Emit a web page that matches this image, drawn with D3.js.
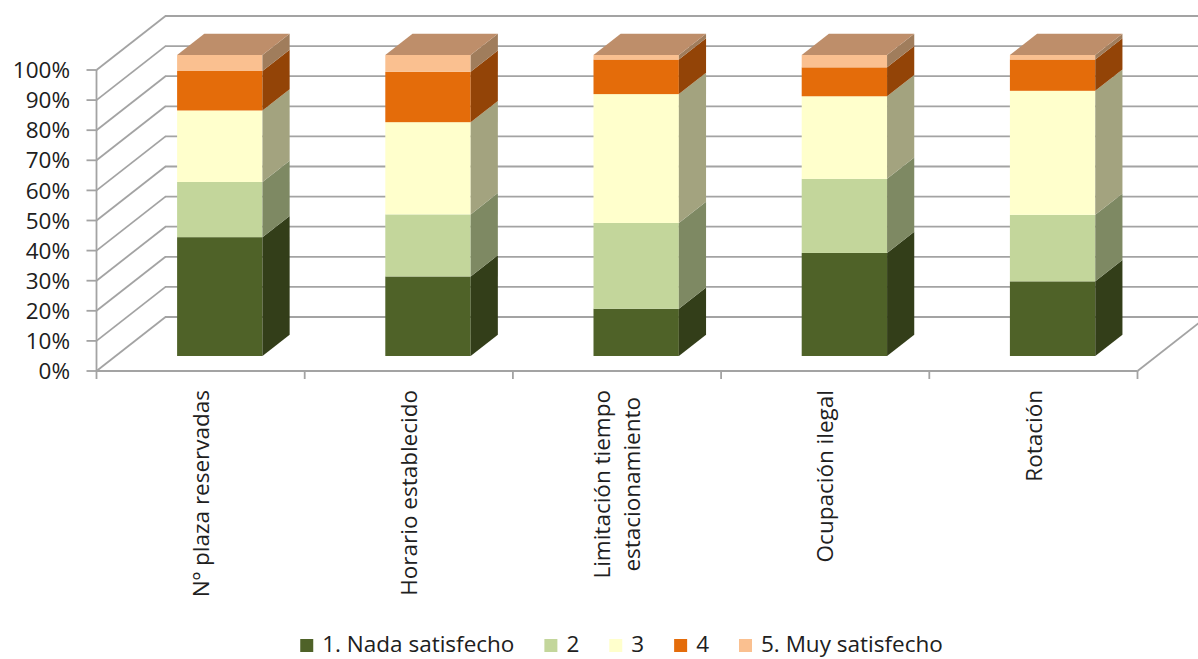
<!DOCTYPE html>
<html>
<head>
<meta charset="utf-8">
<script src="https://cdn.jsdelivr.net/npm/d3@7"></script>
<style>
  html, body { margin: 0; padding: 0; background: #ffffff; }
  svg { display: block; }
  text { font-family: "Open Sans", "Liberation Sans", sans-serif; fill: #202020; }
</style>
</head>
<body>
<svg id="chart" width="1198" height="659"></svg>
<script>
// ---------------- data ----------------
const categories = ["Nº plaza reservadas", "Horario establecido", "Limitación tiempo\nestacionamiento", "Ocupación ilegal", "Rotación"];
const seriesNames = ["1. Nada satisfecho", "2", "3", "4", "5. Muy satisfecho"];
const nadaSatisfecho = [39.4, 26.4, 15.7, 34.2, 24.8];
const valor2 = [18.3, 20.6, 28.5, 24.6, 22.1];
const valor3 = [23.7, 30.6, 42.8, 27.4, 41.2];
const valor4 = [13.1, 16.7, 11.5, 9.6, 10.4];
const muySatisfecho = [5.3, 5.6, 1.5, 4.1, 1.5];
const yTickValues = [0, 0.1, 0.2, 0.3, 0.4, 0.5, 0.6, 0.7, 0.8, 0.9, 1.0];
const yTickLabels = ["0%", "10%", "20%", "30%", "40%", "50%", "60%", "70%", "80%", "90%", "100%"];

// ---------------- styles ----------------
const frontColors = ["#4f6228", "#c3d69b", "#ffffcc", "#e46c0a", "#fac090"];
const sideColors  = ["#333e19", "#7e8963", "#a3a37f", "#934407", "#a07d5c"];
const topColor = "#be8e6a";
const gridColor = "#a3a3a3";

// ---------------- build table ----------------
const allSeries = [nadaSatisfecho, valor2, valor3, valor4, muySatisfecho];
const table = categories.map((c, i) => {
  const row = { category: c };
  seriesNames.forEach((s, j) => { row[s] = allSeries[j][i]; });
  return row;
});
const stacked = d3.stack().keys(seriesNames).offset(d3.stackOffsetExpand)(table);

// ---------------- geometry ----------------
const svg = d3.select("#chart");
const W = 1198;
const x = d3.scaleBand().domain(categories).range([96.5, 1137.5]).padding(0);
const y = d3.scaleLinear().domain([0, 1]).range([371, 70]);
const DX = 69, DY = -54;           // full depth offset
const tFront = 0.278, tBack = 0.672; // bar depth position
const barFrac = 0.41;

const g = svg.append("g");

// back wall gridlines
g.selectAll("line.back").data(yTickValues).join("line")
  .attr("class", "back")
  .attr("x1", x.range()[0] + DX - 0.5).attr("x2", W + 10)
  .attr("y1", d => y(d) + DY).attr("y2", d => y(d) + DY)
  .attr("stroke", gridColor).attr("stroke-width", 1.8);

// left wall diagonals
g.selectAll("line.side").data(yTickValues).join("line")
  .attr("class", "side")
  .attr("x1", x.range()[0]).attr("x2", x.range()[0] + DX)
  .attr("y1", d => y(d)).attr("y2", d => y(d) + DY)
  .attr("stroke", gridColor).attr("stroke-width", 1.8);

// front vertical axis line
g.append("line")
  .attr("x1", x.range()[0]).attr("x2", x.range()[0])
  .attr("y1", y(0)).attr("y2", y(1))
  .attr("stroke", gridColor).attr("stroke-width", 1.8);

// y ticks
g.selectAll("line.ytick").data(yTickValues).join("line")
  .attr("class", "ytick")
  .attr("x1", x.range()[0] - 10).attr("x2", x.range()[0])
  .attr("y1", d => y(d)).attr("y2", d => y(d))
  .attr("stroke", gridColor).attr("stroke-width", 1.8);

// y labels
g.selectAll("text.ylab").data(yTickValues).join("text")
  .attr("class", "ylab")
  .attr("x", 70).attr("y", d => y(d))
  .attr("dy", "0.36em")
  .attr("text-anchor", "end")
  .attr("font-size", 22.5)
  .text((d, i) => yTickLabels[i]);

// floor front line
g.append("line")
  .attr("x1", x.range()[0]).attr("x2", x.range()[1])
  .attr("y1", y(0)).attr("y2", y(0))
  .attr("stroke", gridColor).attr("stroke-width", 1.8);
// floor right edge
g.append("line")
  .attr("x1", x.range()[1]).attr("x2", x.range()[1] + DX)
  .attr("y1", y(0)).attr("y2", y(0) + DY)
  .attr("stroke", gridColor).attr("stroke-width", 1.8);

// category tick marks
const boundaries = categories.map(c => x(c)).concat([x.range()[1]]);
g.selectAll("line.xtick").data(boundaries).join("line")
  .attr("class", "xtick")
  .attr("x1", d => d).attr("x2", d => d)
  .attr("y1", y(0)).attr("y2", y(0) + 8)
  .attr("stroke", gridColor).attr("stroke-width", 1.8);

// ---------------- bars ----------------
const bw = x.bandwidth() * barFrac;
const fdx = DX * tFront, fdy = DY * tFront;
const ddx = DX * (tBack - tFront), ddy = DY * (tBack - tFront);
function xl(cat) { return x(cat) + x.bandwidth() / 2 - bw / 2 + fdx; }

const bars = g.append("g");
stacked.forEach((layer, li) => {
  const lg = bars.append("g");
  lg.selectAll("rect").data(layer).join("rect")
    .attr("x", d => xl(d.data.category))
    .attr("y", d => y(d[1]) + fdy)
    .attr("width", bw)
    .attr("height", d => y(d[0]) - y(d[1]))
    .attr("fill", frontColors[li]);
  lg.selectAll("path").data(layer).join("path")
    .attr("d", d => {
      const xr = xl(d.data.category) + bw;
      const yt = y(d[1]) + fdy, yb = y(d[0]) + fdy;
      return `M${xr},${yt}L${xr + ddx},${yt + ddy}L${xr + ddx},${yb + ddy}L${xr},${yb}Z`;
    })
    .attr("fill", sideColors[li]);
});
// top faces
const topLayer = stacked[stacked.length - 1];
bars.append("g").selectAll("path").data(topLayer).join("path")
  .attr("d", d => {
    const x0 = xl(d.data.category), x1 = x0 + bw;
    const yt = y(d[1]) + fdy;
    return `M${x0},${yt}L${x1},${yt}L${x1 + ddx},${yt + ddy}L${x0 + ddx},${yt + ddy}Z`;
  })
  .attr("fill", topColor);

// ---------------- category labels ----------------
const labelTop = 390;
const lineGap = 30;
categories.forEach(c => {
  const lines = c.split("\n");
  const cx = x(c) + x.bandwidth() / 2;
  const lab = g.append("g");
  const texts = lines.map((ln, i) => lab.append("text")
    .attr("font-size", 22.5)
    .attr("text-anchor", "middle")
    .text(ln));
  const maxLen = d3.max(texts, t => t.node().getComputedTextLength());
  texts.forEach((t, i) => {
    const lx = cx + (i - (lines.length - 1) / 2) * lineGap;
    t.attr("transform", `translate(${lx},${labelTop + maxLen / 2}) rotate(-90)`)
      .attr("dy", "0.36em");
  });
});

// ---------------- legend ----------------
const legend = svg.append("g");
const sq = 13, sqGap = 9, itemGap = 30;
const items = seriesNames.map((s, i) => {
  const it = legend.append("g");
  it.append("rect").attr("x", 0).attr("y", 639).attr("width", sq).attr("height", sq)
    .attr("fill", frontColors[i]);
  const t = it.append("text").attr("x", sq + sqGap).attr("y", 652)
    .attr("font-size", 22.5).text(s);
  return { g: it, w: sq + sqGap + t.node().getComputedTextLength() };
});
const totalW = d3.sum(items, d => d.w) + itemGap * (items.length - 1);
let cur = 621.5 - totalW / 2;
items.forEach(it => { it.g.attr("transform", `translate(${cur},0)`); cur += it.w + itemGap; });
</script>
</body>
</html>
